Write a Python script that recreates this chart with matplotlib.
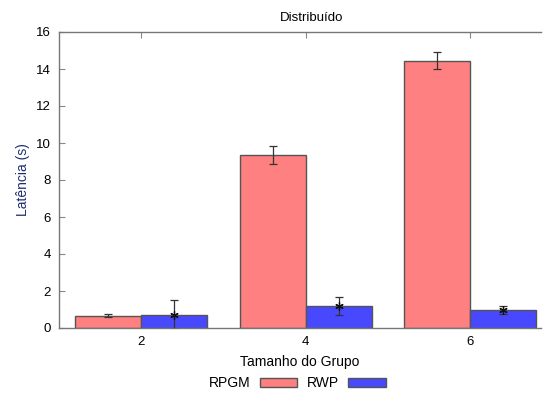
import matplotlib
matplotlib.use("Agg")
import matplotlib.pyplot as plt
import numpy as np

plt.rcParams['font.family'] = ['Liberation Sans', 'DejaVu Sans']

groups = [2, 4, 6]
rpgm = [0.66, 9.35, 14.45]
rpgm_err = [0.07, 0.5, 0.47]
rwp = [0.72, 1.19, 0.98]
rwp_err = [0.8, 0.5, 0.2]

fig = plt.figure(figsize=(5.44, 3.94), dpi=100)
ax = fig.add_axes([59 / 544, 66 / 394, 482 / 544, 296 / 394])

x = np.array(groups, dtype=float)
w = 0.8
edge = '#555555'
ax.bar(x - w / 2, rpgm, w, color='#ff8080', edgecolor=edge, linewidth=1, label='RPGM', zorder=2)
ax.bar(x + w / 2, rwp, w, color='#4848ff', edgecolor=edge, linewidth=1, label='RWP', zorder=2)

ax.errorbar(x - w / 2, rpgm, yerr=rpgm_err, fmt='none', ecolor='#333333',
            elinewidth=0.9, capsize=3, capthick=0.9, zorder=3)
ax.errorbar(x + w / 2, rwp, yerr=rwp_err, fmt='none', ecolor='#333333',
            elinewidth=0.9, capsize=3, capthick=0.9, zorder=3)
ax.plot(x + w / 2, rwp, linestyle='none', marker=(6, 2, 0), markersize=6,
        color='#111111', markeredgewidth=0.9, zorder=4)

ax.set_xlim(1.0, 6.86)
ax.set_ylim(0, 16)
ax.set_xticks(groups)
ax.set_yticks(range(0, 17, 2))
ax.tick_params(direction='in', length=4, color='#888888', labelsize=9.5,
               top=True, labeltop=False, right=False, pad=6)
for side in ['left', 'bottom', 'top']:
    ax.spines[side].set_color('#777777')
    ax.spines[side].set_linewidth(1)
ax.spines['right'].set_visible(False)

ax.set_title('Distribuído', fontsize=9.5, pad=8, x=0.523)
ax.set_xlabel('Tamanho do Grupo', fontsize=10, labelpad=5)
ax.set_ylabel('Latência (s)', fontsize=10, color='#1f2f6f', labelpad=4)

ax.legend(loc='center', bbox_to_anchor=(0.495, -0.186), ncol=2, frameon=False,
          markerfirst=False, fontsize=10, handlelength=2.7, handleheight=0.65,
          columnspacing=0.7, handletextpad=0.65, borderpad=0)

fig.savefig('out.png', dpi=100)
